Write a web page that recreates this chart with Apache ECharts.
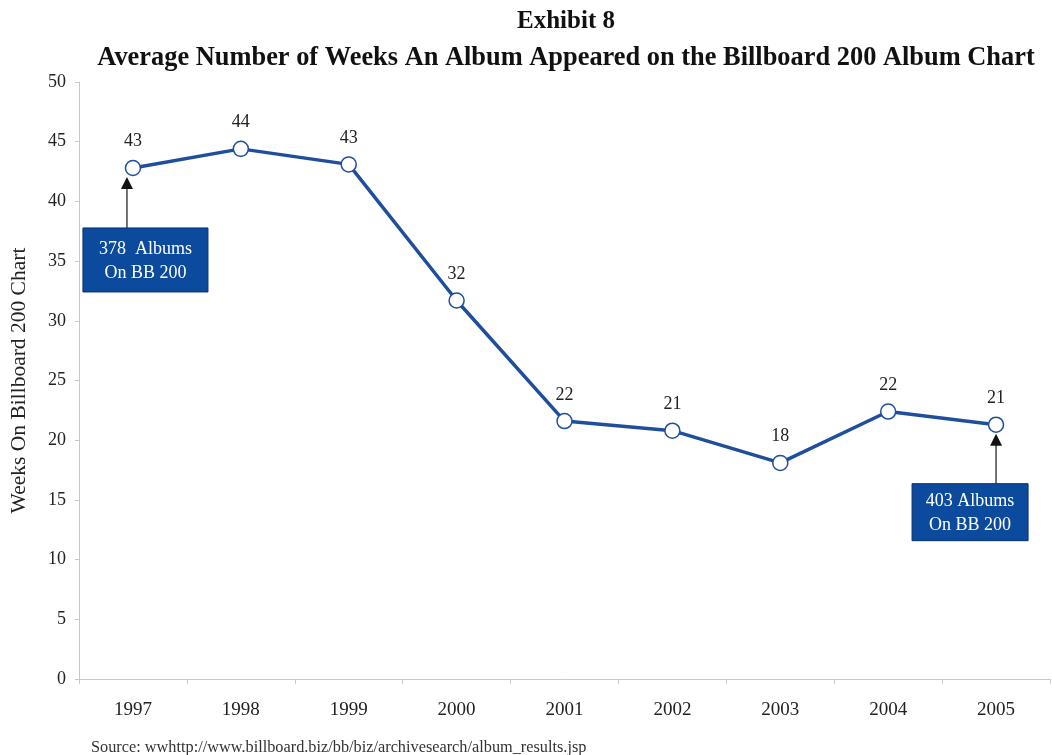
<!DOCTYPE html>
<html>
<head>
<meta charset="utf-8">
<script src="https://cdn.jsdelivr.net/npm/echarts@6/dist/echarts.min.js"></script>
<style>html,body{margin:0;padding:0;background:#fff}#c{width:1052px;height:755px}</style>
</head>
<body>
<div id="c"></div>
<script>
var years = ['1997','1998','1999','2000','2001','2002','2003','2004','2005'];
var weeks = [42.8, 44.4, 43.1, 31.7, 21.6, 20.8, 18.1, 22.4, 21.3];
var titleText = 'Exhibit 8';
var subtitleText = 'Average Number of Weeks An Album Appeared on the Billboard 200 Album Chart';
var yAxisName = 'Weeks On Billboard 200 Chart';
var sourceText = 'Source: wwhttp://www.billboard.biz/bb/biz/archivesearch/album_results.jsp';
var notes = [
  {idx: 0, lines: ['378  Albums', 'On BB 200']},
  {idx: 8, lines: ['403 Albums', 'On BB 200']}
];

var serif = '"Liberation Serif","DejaVu Serif",serif';
var chart = echarts.init(document.getElementById('c'));
chart.setOption({
  backgroundColor: '#fff',
  animation: false,
  title: [
    {text: titleText, left: 561, top: 4, textAlign: 'center',
     textStyle: {fontFamily: serif, fontSize: 25, fontWeight: 'bold', color: '#111'}},
    {text: subtitleText, left: 561, top: 40, textAlign: 'center',
     textStyle: {fontFamily: serif, fontSize: 26.4, fontWeight: 'bold', color: '#111'}},
    {text: sourceText, left: 86, top: 735,
     textStyle: {fontFamily: serif, fontSize: 16.3, fontWeight: 'normal', color: '#333'}}
  ],
  grid: {left: 77, right: 2, top: 82, bottom: 76},
  xAxis: {
    type: 'category', data: years, boundaryGap: true,
    axisLine: {lineStyle: {color: '#c8c8c8', width: 1}},
    axisTick: {show: true, length: 5, lineStyle: {color: '#c8c8c8'}},
    axisLabel: {fontFamily: serif, fontSize: 19, color: '#222', margin: 22}
  },
  yAxis: {
    type: 'value', min: 0, max: 50, interval: 5,
    name: yAxisName, nameLocation: 'middle', nameGap: 49,
    nameTextStyle: {fontFamily: serif, fontSize: 21.5, color: '#222'},
    axisLine: {show: true, lineStyle: {color: '#c8c8c8'}},
    axisTick: {show: true, length: 4, lineStyle: {color: '#c8c8c8'}},
    splitLine: {show: false},
    axisLabel: {fontFamily: serif, fontSize: 18, color: '#222', margin: 13}
  },
  series: [{
    type: 'line', data: weeks,
    symbol: 'circle', symbolSize: 15,
    lineStyle: {color: '#1f4f9c', width: 3.5},
    itemStyle: {color: '#fff', borderColor: '#1f4f9c', borderWidth: 1.5},
    label: {show: true, position: 'top', distance: 9,
      fontFamily: serif, fontSize: 18, color: '#222',
      formatter: function (p) { return Math.round(p.value); }}
  }]
});

function drawNotes() {
  var g = [];
  notes.forEach(function (n, k) {
    var p = chart.convertToPixel({seriesIndex: 0}, [n.idx, weeks[n.idx]]);
    var ax = p[0] - (k === 0 ? 6 : 0);
    var boxW = k === 0 ? 125 : 116, boxH = k === 0 ? 64 : 57;
    var boxTop = k === 0 ? p[1] + 60 : p[1] + 59;
    var boxLeft = k === 0 ? ax - 44 : ax - 84;
    g.push({type: 'line', shape: {x1: ax, y1: boxTop, x2: ax, y2: p[1] + 20},
      style: {stroke: '#444', lineWidth: 1.5}});
    g.push({type: 'polygon', shape: {points: [[ax, p[1] + 9], [ax - 6, p[1] + 21], [ax + 6, p[1] + 21]]},
      style: {fill: '#111'}});
    g.push({type: 'rect', shape: {x: boxLeft, y: boxTop, width: boxW, height: boxH},
      style: {fill: '#0b4a9c', stroke: '#06306a', lineWidth: 1}});
    g.push({type: 'text', x: boxLeft + boxW / 2, y: boxTop + boxH / 2 + 1,
      style: {text: n.lines.join('\n'), fill: '#fff', font: '18px ' + serif,
        textAlign: 'center', textVerticalAlign: 'middle', lineHeight: 24}});
  });
  chart.setOption({graphic: g});
}
drawNotes();
</script>
</body>
</html>
